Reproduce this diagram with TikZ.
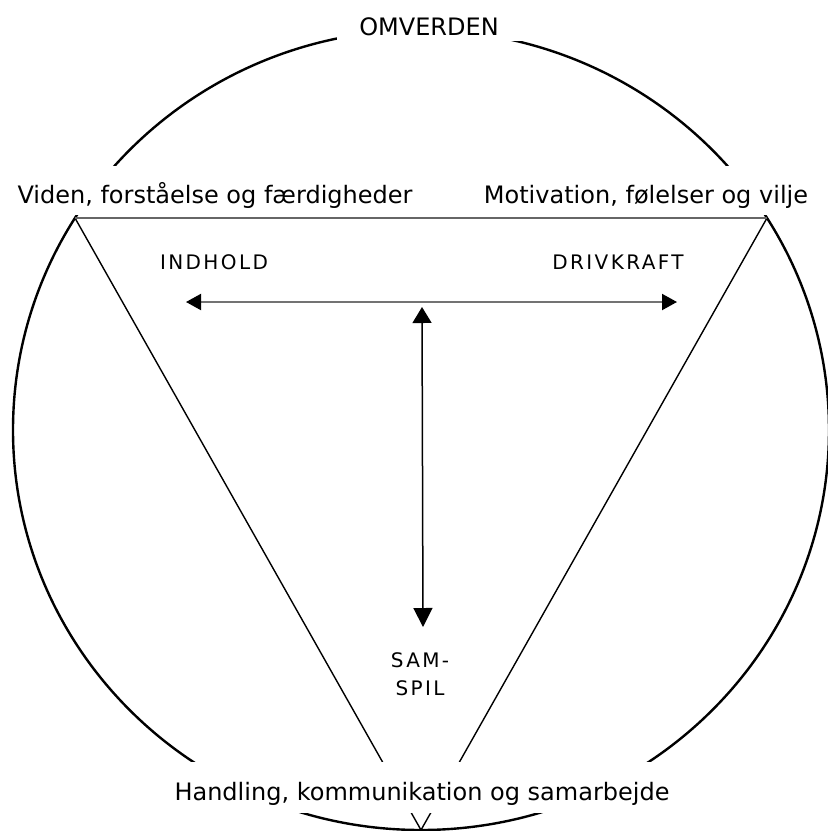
\documentclass[tikz,border=0pt]{standalone}
\usepackage{fontspec}
\setmainfont{DejaVu Sans}
\newfontfamily\spacedfont[LetterSpace=12]{DejaVu Sans}
\usetikzlibrary{arrows.meta}

\begin{document}
\begin{tikzpicture}[x=1pt, y=-1pt,
    rim/.style={line width=2.4pt},
    triline/.style={line width=1.4pt},
    topline/.style={line width=2pt, color=black!60},
    duplex/.style={{Triangle[length=15pt,width=16pt,color=black]}-{Triangle[length=15pt,width=16pt,color=black]}, line width=2pt, color=black!55},
    vertarrow/.style={{Triangle[length=16pt,width=19pt]}-{Triangle[length=19pt,width=19pt]}, line width=1.5pt},
    bigtext/.style={fill=white, anchor=base, inner ysep=0pt, inner xsep=3pt, font=\fontsize{24}{28}\selectfont},
    smalltext/.style={font=\spacedfont\fontsize{20}{28}\selectfont, align=center}]
    \useasboundingbox (0,0) rectangle (828,831);
    \coordinate (centre) at (421,430);
    \coordinate (knowledge) at (75,218);
    \coordinate (motive) at (767,218);
    \coordinate (action) at (421,830);
    \draw [rim] (centre) ellipse [x radius=408pt, y radius=400pt];
    \draw [triline] (knowledge) -- (action) -- (motive);
    \draw [topline] (knowledge) -- (motive);
    % texts on the rim
    \node [bigtext, text height=35pt, text depth=6pt, minimum width=185pt] (omverden) at (429,35) {OMVERDEN};
    \node [bigtext, text height=37pt, text depth=12pt] (viden) at (215,203) {Viden, forståelse og færdigheder};
    \node [bigtext, text height=37pt, text depth=12pt] (motivation) at (646,203) {Motivation, følelser og vilje};
    \node [bigtext, text height=38pt, text depth=13pt] (handling) at (422,800) {Handling, kommunikation og samarbejde};
    % inside
    \node [smalltext] (indhold) at (214,262) {INDHOLD};
    \node [smalltext] (drivkraft) at (618,262) {DRIVKRAFT};
    \node [smalltext] (samspil) at (420,674) {SAM-\\SPIL};
    \coordinate (contentend) at (186,302);
    \coordinate (driveend) at (677,302);
    \coordinate (interplaytop) at (422,307);
    \coordinate (interplayend) at (423,627);
    \draw [duplex] (contentend) -- (driveend);
    \draw [vertarrow] (interplaytop) -- (interplayend);
\end{tikzpicture}
\end{document}
